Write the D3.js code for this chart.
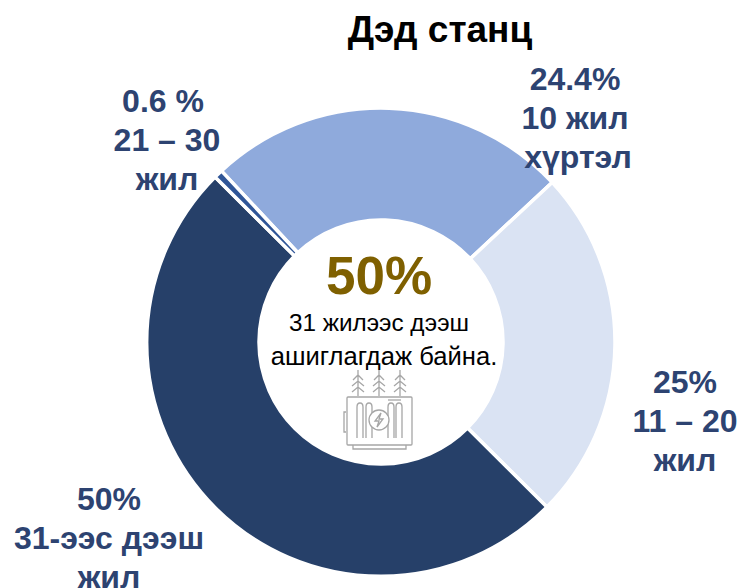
<html>
<head><title>Дэд станц</title>
<script src="https://d3js.org/d3.v7.min.js"></script>
<style>
body { margin: 0; background: #fff; }
text { font-family: "Liberation Sans", Arial, sans-serif; }
.lbl { font-weight: bold; font-size: 32px; fill: #2d4371; text-anchor: middle; }
</style>
</head>
<body>
<script>
var categories = ["10 жил хүртэл", "11 – 20 жил", "31-ээс дээш жил", "21 – 30 жил"];
// slice sizes as drawn: the upper right slice is the slightly bigger one
var values = [25, 24.4, 50, 0.6];
var colors = ["#8faadc", "#dae3f3", "#264069", "#2f5597"];
var labels = [
	["24.4%", "10 жил", "хүртэл"],
	["25%", "11 – 20", "жил"],
	["50%", "31-ээс дээш", "жил"],
	["0.6 %", "21 – 30", "жил"]
];
var labelX = [[575, 575, 578], [685, 685, 685], [109, 109, 109], [163, 167, 167]];
var labelY = [90, 393, 510, 112];

var width = 740, height = 588;
var cx = 381, cy = 342, outer = 234, inner = 122;

var svg = d3.select("body").append("svg")
	.attr("width", width)
	.attr("height", height)
	.style("display", "block");

svg.append("text")
	.attr("x", 440).attr("y", 42)
	.attr("text-anchor", "middle")
	.style("font-weight", "bold").style("font-size", "37px").attr("fill", "#000")
	.text("Дэд станц");

// first slice starts just after the thin one, around -43deg
var pie = d3.pie().sort(null)
	.startAngle(-43 * Math.PI / 180)
	.endAngle(317 * Math.PI / 180);
var arc = d3.arc().innerRadius(inner).outerRadius(outer);

var g = svg.append("g").attr("transform", "translate(" + cx + "," + cy + ")");
g.selectAll("path")
	.data(pie(values))
	.enter()
	.append("path")
	.attr("d", arc)
	.attr("fill", function(d, i) { return colors[i]; })
	.attr("stroke", "#fff")
	.attr("stroke-width", 3.5);

labels.forEach(function(lines, i) {
	var t = svg.append("text").attr("class", "lbl");
	lines.forEach(function(s, j) {
		t.append("tspan")
			.attr("x", labelX[i][j])
			.attr("y", labelY[i] + j * 39)
			.text(s);
	});
});

svg.append("text").attr("x", 379).attr("y", 294)
	.attr("text-anchor", "middle")
	.style("font-weight", "bold").style("font-size", "53px").attr("fill", "#7f6000")
	.text("50%");
svg.append("text").attr("x", 379).attr("y", 331)
	.attr("text-anchor", "middle").style("font-size", "24.3px").attr("fill", "#000")
	.text("31 жилээс дээш");
svg.append("text").attr("x", 384).attr("y", 365)
	.attr("text-anchor", "middle").style("font-size", "25.6px").attr("fill", "#000")
	.text("ашиглагдаж байна.");

// transformer icon
var icon = svg.append("g")
	.attr("transform", "translate(320,350)")
	.attr("fill", "none").attr("stroke", "#a6a6a6").attr("stroke-width", 1.3);
icon.append("rect").attr("x", 27).attr("y", 47).attr("width", 65).attr("height", 48).attr("rx", 1);
icon.append("path").attr("d", "M33 95V99H86V95");
icon.append("path").attr("d", "M26 62H24V82H26");
icon.append("path").attr("d", "M68 50H81");
[38, 59, 80].forEach(function(x) {
	icon.append("path").attr("d",
		"M" + x + " 20V46" +
		"M" + (x - 5) + " 30L" + x + " 25L" + (x + 5) + " 30" +
		"M" + (x - 6) + " 36L" + x + " 31L" + (x + 6) + " 36" +
		"M" + (x - 6) + " 42L" + x + " 37L" + (x + 6) + " 42");
});
[[37, 43], [46, 52], [68, 74], [76, 82]].forEach(function(p) {
	icon.append("path").attr("d",
		"M" + p[0] + " 88V57Q" + p[0] + " 53 " + ((p[0] + p[1]) / 2) + " 53Q" + p[1] + " 53 " + p[1] + " 57V88");
});
icon.append("circle").attr("cx", 59).attr("cy", 70).attr("r", 10).attr("fill", "#fff");
icon.append("path").attr("d", "M61 63L55 71H59L57 77L63 69H59Z");
</script>
</body>
</html>
